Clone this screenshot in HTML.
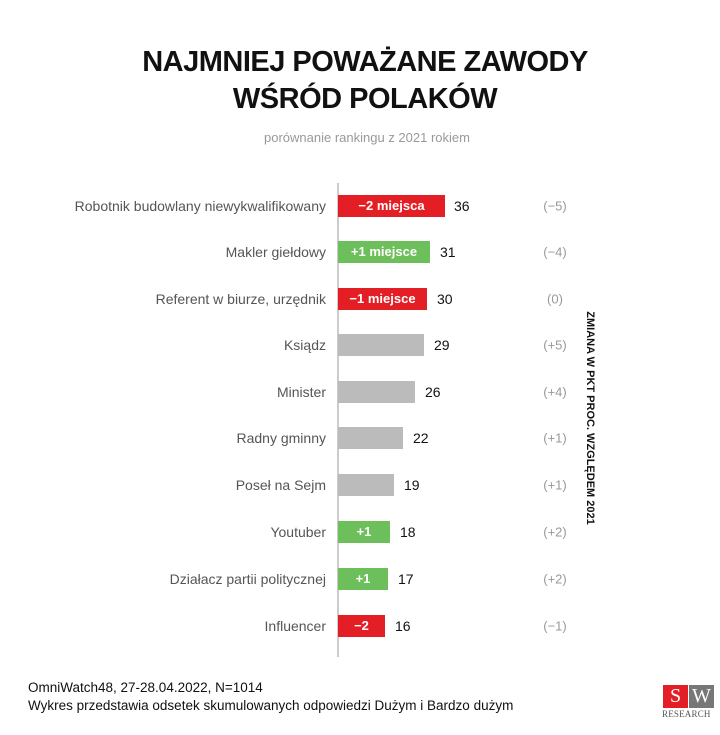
<!DOCTYPE html>
<html><head><meta charset="utf-8"><style>
body{margin:0;width:720px;height:735px;background:#fff;font-family:"Liberation Sans",sans-serif;position:relative;overflow:hidden}
.a{position:absolute;white-space:nowrap}
.t{left:0;width:730px;text-align:center;font-weight:bold;font-size:29px;color:#111;letter-spacing:-0.5px}
.lbl{right:394px;font-size:14px;color:#555;transform:translateY(-50%)}
.bar{left:338px;height:22px;transform:translateY(-50%);color:#fff;font-weight:bold;font-size:13px;line-height:22px;text-align:center}
.v{font-size:14px;color:#111;transform:translateY(-50%)}
.c{left:520px;width:70px;text-align:center;font-size:13px;color:#999;transform:translateY(-50%)}
</style></head><body>
<div class="a t" style="top:46px">NAJMNIEJ POWAŻANE ZAWODY</div>
<div class="a t" style="top:83px">WŚRÓD POLAKÓW</div>
<div class="a" style="left:0;width:734px;text-align:center;top:130px;font-size:13px;color:#999">porównanie rankingu z 2021 rokiem</div>
<div class="a" style="left:337px;top:183px;width:2px;height:474px;background:#ccc"></div>

<div class="a lbl" style="top:206px">Robotnik budowlany niewykwalifikowany</div>
<div class="a bar" style="top:206px;width:107px;background:#e31e24">−2 miejsca</div>
<div class="a v" style="top:206px;left:454px">36</div>
<div class="a c" style="top:206px">(−5)</div>

<div class="a lbl" style="top:252px">Makler giełdowy</div>
<div class="a bar" style="top:252px;width:92px;background:#6cbf5a">+1 miejsce</div>
<div class="a v" style="top:252px;left:440px">31</div>
<div class="a c" style="top:252px">(−4)</div>

<div class="a lbl" style="top:299px">Referent w biurze, urzędnik</div>
<div class="a bar" style="top:299px;width:89px;background:#e31e24">−1 miejsce</div>
<div class="a v" style="top:299px;left:437px">30</div>
<div class="a c" style="top:299px">(0)</div>

<div class="a lbl" style="top:345px">Ksiądz</div>
<div class="a bar" style="top:345px;width:86px;background:#bbb"></div>
<div class="a v" style="top:345px;left:434px">29</div>
<div class="a c" style="top:345px">(+5)</div>

<div class="a lbl" style="top:392px">Minister</div>
<div class="a bar" style="top:392px;width:77px;background:#bbb"></div>
<div class="a v" style="top:392px;left:425px">26</div>
<div class="a c" style="top:392px">(+4)</div>

<div class="a lbl" style="top:438px">Radny gminny</div>
<div class="a bar" style="top:438px;width:65px;background:#bbb"></div>
<div class="a v" style="top:438px;left:413px">22</div>
<div class="a c" style="top:438px">(+1)</div>

<div class="a lbl" style="top:485px">Poseł na Sejm</div>
<div class="a bar" style="top:485px;width:56px;background:#bbb"></div>
<div class="a v" style="top:485px;left:404px">19</div>
<div class="a c" style="top:485px">(+1)</div>

<div class="a lbl" style="top:532px">Youtuber</div>
<div class="a bar" style="top:532px;width:52px;background:#6cbf5a">+1</div>
<div class="a v" style="top:532px;left:400px">18</div>
<div class="a c" style="top:532px">(+2)</div>

<div class="a lbl" style="top:579px">Działacz partii politycznej</div>
<div class="a bar" style="top:579px;width:50px;background:#6cbf5a">+1</div>
<div class="a v" style="top:579px;left:398px">17</div>
<div class="a c" style="top:579px">(+2)</div>

<div class="a lbl" style="top:626px">Influencer</div>
<div class="a bar" style="top:626px;width:47px;background:#e31e24">−2</div>
<div class="a v" style="top:626px;left:395px">16</div>
<div class="a c" style="top:626px">(−1)</div>

<div class="a" style="left:590px;top:418px;transform:translate(-50%,-50%) rotate(90deg);font-size:11px;font-weight:bold;color:#111">ZMIANA W PKT PROC. WZGLĘDEM 2021</div>

<div class="a" style="left:28px;top:680px;font-size:13.5px;color:#111">OmniWatch48, 27-28.04.2022, N=1014</div>
<div class="a" style="left:28px;top:698px;font-size:13.5px;color:#111">Wykres przedstawia odsetek skumulowanych odpowiedzi Dużym i Bardzo dużym</div>

<div class="a" style="left:663px;top:685px;width:25px;height:23px;background:#e31e24;color:#fff;font-family:'Liberation Serif',serif;font-size:20px;text-align:center;line-height:23px">S</div>
<div class="a" style="left:689px;top:685px;width:25px;height:23px;background:#777;color:#fff;font-family:'Liberation Serif',serif;font-size:20px;text-align:center;line-height:23px">W</div>
<div class="a" style="left:662px;top:709px;font-family:'Liberation Serif',serif;font-size:9px;color:#555;letter-spacing:0.2px">RESEARCH</div>
</body></html>
